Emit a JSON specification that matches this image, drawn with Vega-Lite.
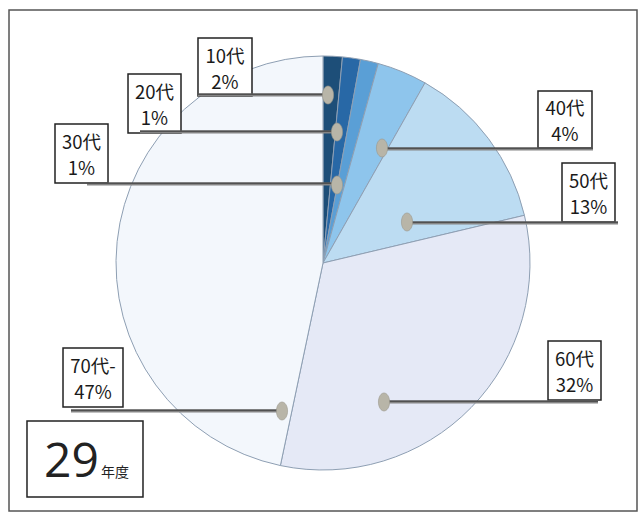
{
  "$schema": "https://vega.github.io/schema/vega-lite/v6.json",
  "width": 640,
  "height": 514,
  "autosize": {"type": "fit", "contains": "padding"},
  "padding": 0,
  "background": "white",
  "config": {"view": {"stroke": null}},
  "datasets": {
    "slices": [
      {"age": "10代", "value": 1.5, "order": 1},
      {"age": "20代", "value": 1.4, "order": 2},
      {"age": "30代", "value": 1.4, "order": 3},
      {"age": "40代", "value": 3.9, "order": 4},
      {"age": "50代", "value": 13.1, "order": 5},
      {"age": "60代", "value": 32.0, "order": 6},
      {"age": "70代-", "value": 46.7, "order": 7}
    ],
    "callouts": [
      {"age": "10代", "label": "10代\n2%", "bx1": -60.39, "bx2": -34.30, "by1": 108.70, "by2": 80.68, "lx1": -60.39, "lx2": 2.42, "ly": 81.16, "dotx": 2.42, "doty": 81.16},
      {"age": "20代", "label": "20代\n1%", "bx1": -94.20, "bx2": -68.60, "by1": 91.30, "by2": 62.80, "lx1": -88.41, "lx2": 6.76, "ly": 63.29, "dotx": 6.76, "doty": 63.29},
      {"age": "30代", "label": "30代\n1%", "bx1": -129.47, "bx2": -103.86, "by1": 67.15, "by2": 38.65, "lx1": -114.01, "lx2": 6.76, "ly": 38.16, "dotx": 6.76, "doty": 37.68},
      {"age": "40代", "label": "40代\n4%", "bx1": 103.86, "bx2": 129.95, "by1": 83.09, "by2": 55.56, "lx1": 28.50, "lx2": 130.43, "ly": 55.07, "dotx": 28.50, "doty": 55.56},
      {"age": "50代", "label": "50代\n13%", "bx1": 115.46, "bx2": 141.06, "by1": 48.31, "by2": 19.81, "lx1": 40.58, "lx2": 142.51, "ly": 19.32, "dotx": 40.58, "doty": 19.81},
      {"age": "60代", "label": "60代\n32%", "bx1": 108.70, "bx2": 134.30, "by1": -37.68, "by2": -66.18, "lx1": 29.47, "lx2": 132.85, "ly": -67.15, "dotx": 29.47, "doty": -67.15},
      {"age": "70代-", "label": "70代-\n47%", "bx1": -125.60, "bx2": -96.62, "by1": -41.06, "by2": -69.57, "lx1": -121.74, "lx2": -19.81, "ly": -71.50, "dotx": -19.81, "doty": -71.50}
    ],
    "frame": [{"x1": -151.69, "x2": 151.69, "y1": 122.22, "y2": -119.81}],
    "badge": [{"x1": -143.0, "x2": -86.96, "y1": -76.33, "y2": -113.04, "year": "29", "unit": "年度", "tx": -108.21, "ux": -107.25, "ty": -103.38}]
  },
  "layer": [
    {
      "data": {"name": "frame"},
      "mark": {"type": "rect", "fill": null, "fillOpacity": 0, "stroke": "#555555", "strokeWidth": 1.5},
      "encoding": {
        "x": {"field": "x1", "type": "quantitative", "scale": {"domain": [-156.04, 153.14], "nice": false, "zero": false}, "axis": null},
        "x2": {"field": "x2"},
        "y": {"field": "y1", "type": "quantitative", "scale": {"domain": [-121.26, 127.05], "nice": false, "zero": false}, "axis": null},
        "y2": {"field": "y2"}
      }
    },
    {
      "data": {"name": "slices"},
      "mark": {"type": "arc", "radius": 207, "stroke": "#8e9fb3", "strokeWidth": 1},
      "encoding": {
        "x": {"datum": 0, "type": "quantitative", "scale": {"domain": [-156.04, 153.14], "nice": false, "zero": false}, "axis": null},
        "y": {"datum": 0, "type": "quantitative", "scale": {"domain": [-121.26, 127.05], "nice": false, "zero": false}, "axis": null},
        "theta": {"field": "value", "type": "quantitative", "stack": true},
        "order": {"field": "order", "type": "quantitative"},
        "color": {
          "field": "age", "type": "nominal", "legend": null,
          "scale": {
            "domain": ["10代", "20代", "30代", "40代", "50代", "60代", "70代-"],
            "range": ["#1d4e78", "#2868a6", "#5a9fd6", "#8ec5ec", "#bcdcf2", "#e5e9f6", "#f3f7fc"]
          }
        }
      }
    },
    {
      "data": {"name": "callouts"},
      "mark": {"type": "rect", "fill": "white", "stroke": "#222222", "strokeWidth": 1.5},
      "encoding": {
        "x": {"field": "bx1", "type": "quantitative", "scale": {"domain": [-156.04, 153.14], "nice": false, "zero": false}, "axis": null},
        "x2": {"field": "bx2"},
        "y": {"field": "by1", "type": "quantitative", "scale": {"domain": [-121.26, 127.05], "nice": false, "zero": false}, "axis": null},
        "y2": {"field": "by2"}
      }
    },
    {
      "data": {"name": "callouts"},
      "mark": {"type": "rule", "color": "#858585", "strokeWidth": 3.2},
      "encoding": {
        "x": {"field": "lx1", "type": "quantitative", "scale": {"domain": [-156.04, 153.14], "nice": false, "zero": false}, "axis": null},
        "x2": {"field": "lx2"},
        "y": {"field": "ly", "type": "quantitative", "scale": {"domain": [-121.26, 127.05], "nice": false, "zero": false}, "axis": null}
      }
    },
    {
      "data": {"name": "callouts"},
      "mark": {"type": "rule", "color": "#404040", "strokeWidth": 1.3, "yOffset": -0.8},
      "encoding": {
        "x": {"field": "lx1", "type": "quantitative", "scale": {"domain": [-156.04, 153.14], "nice": false, "zero": false}, "axis": null},
        "x2": {"field": "lx2"},
        "y": {"field": "ly", "type": "quantitative", "scale": {"domain": [-121.26, 127.05], "nice": false, "zero": false}, "axis": null}
      }
    },
    {
      "data": {"name": "callouts"},
      "mark": {"type": "point", "filled": true, "shape": "M0,-1A0.62,1 0 1,1 0,1A0.62,1 0 1,1 0,-1Z", "size": 324, "color": "#b8b5a8", "opacity": 1, "stroke": "#9a978b", "strokeWidth": 0.6},
      "encoding": {
        "x": {"field": "dotx", "type": "quantitative", "scale": {"domain": [-156.04, 153.14], "nice": false, "zero": false}, "axis": null},
        "y": {"field": "doty", "type": "quantitative", "scale": {"domain": [-121.26, 127.05], "nice": false, "zero": false}, "axis": null}
      }
    },
    {
      "data": {"name": "callouts"},
      "transform": [
        {"calculate": "(datum.bx1 + datum.bx2) / 2", "as": "cx"},
        {"calculate": "(datum.by1 + datum.by2) / 2", "as": "cy"}
      ],
      "mark": {"type": "text", "font": "Noto Sans CJK JP", "fontSize": 18.5, "lineHeight": 26, "lineBreak": "\n", "align": "center", "baseline": "middle", "dy": -10, "color": "#1a1a1a"},
      "encoding": {
        "x": {"field": "cx", "type": "quantitative", "scale": {"domain": [-156.04, 153.14], "nice": false, "zero": false}, "axis": null},
        "y": {"field": "cy", "type": "quantitative", "scale": {"domain": [-121.26, 127.05], "nice": false, "zero": false}, "axis": null},
        "text": {"field": "label"}
      }
    },
    {
      "data": {"name": "badge"},
      "mark": {"type": "rect", "fill": "white", "stroke": "#222222", "strokeWidth": 1.5},
      "encoding": {
        "x": {"field": "x1", "type": "quantitative", "scale": {"domain": [-156.04, 153.14], "nice": false, "zero": false}, "axis": null},
        "x2": {"field": "x2"},
        "y": {"field": "y1", "type": "quantitative", "scale": {"domain": [-121.26, 127.05], "nice": false, "zero": false}, "axis": null},
        "y2": {"field": "y2"}
      }
    },
    {
      "data": {"name": "badge"},
      "mark": {"type": "text", "font": "Open Sans", "fontWeight": 400, "fontSize": 48, "align": "right", "baseline": "alphabetic", "color": "#222222"},
      "encoding": {
        "x": {"field": "tx", "type": "quantitative", "scale": {"domain": [-156.04, 153.14], "nice": false, "zero": false}, "axis": null},
        "y": {"field": "ty", "type": "quantitative", "scale": {"domain": [-121.26, 127.05], "nice": false, "zero": false}, "axis": null},
        "text": {"field": "year"}
      }
    },
    {
      "data": {"name": "badge"},
      "mark": {"type": "text", "font": "Noto Sans CJK JP", "fontSize": 14, "align": "left", "baseline": "alphabetic", "color": "#222222"},
      "encoding": {
        "x": {"field": "ux", "type": "quantitative", "scale": {"domain": [-156.04, 153.14], "nice": false, "zero": false}, "axis": null},
        "y": {"field": "ty", "type": "quantitative", "scale": {"domain": [-121.26, 127.05], "nice": false, "zero": false}, "axis": null},
        "text": {"field": "unit"}
      }
    }
  ]
}
